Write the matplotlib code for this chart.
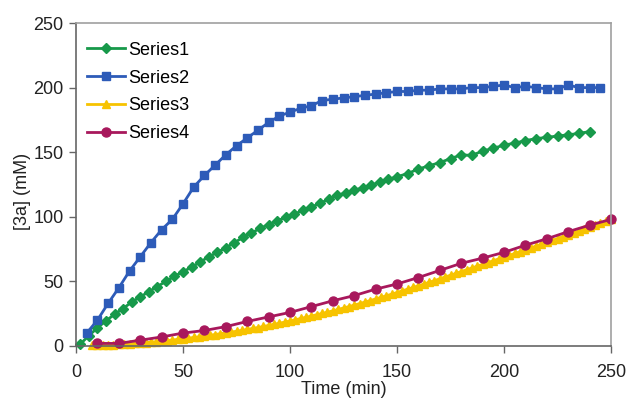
import matplotlib
matplotlib.use('Agg')
import matplotlib.pyplot as plt

plt.rcParams['font.family'] = ['Liberation Sans', 'DejaVu Sans']

# Series1 (green diamonds)
t1 = [2, 6, 10, 14, 18, 22, 26, 30, 34, 38, 42, 46, 50, 54, 58, 62, 66, 70, 74, 78,
      82, 86, 90, 94, 98, 102, 106, 110, 114, 118, 122, 126, 130, 134, 138, 142, 146, 150,
      155, 160, 165, 170, 175, 180, 185, 190, 195, 200, 205, 210, 215, 220, 225, 230, 235, 240]
s1 = [1.5, 8, 14, 19.5, 24.5, 29, 34, 38, 42, 46, 50, 54, 57.5, 61, 65, 69, 72.5, 76, 80, 84,
      87.5, 91, 94, 97, 99.5, 102, 105, 107.5, 110.5, 113.5, 116.5, 118.5, 120.5, 122.5, 124.5, 127, 129, 131,
      133.5, 137, 139.5, 142, 145, 148, 147.5, 151, 153, 155.5, 157, 159, 160.5, 161.5, 162.5, 163.5, 164.5, 166]

# Series2 (blue squares)
t2 = [5, 10, 15, 20, 25, 30, 35, 40, 45, 50, 55, 60, 65, 70, 75, 80, 85, 90, 95, 100,
      105, 110, 115, 120, 125, 130, 135, 140, 145, 150, 155, 160, 165, 170, 175, 180, 185, 190, 195, 200,
      205, 210, 215, 220, 225, 230, 235, 240, 245]
s2 = [10, 20, 33, 45, 58, 69, 80, 90, 98, 110, 123, 132, 140, 148, 155, 161, 167, 173, 178, 181,
      184, 186, 190, 191, 192, 193, 194, 195, 196, 197, 197, 198, 198, 199, 199, 199, 200, 200, 201, 202,
      200, 201, 200, 199, 199, 202, 200, 200, 200]

# Series3 (yellow triangles)
t3 = [7.5, 10, 12.5, 15, 17.5, 20, 22.5, 25, 27.5, 30, 32.5, 35, 37.5, 40, 42.5, 45, 47.5, 50,
      52.5, 55, 57.5, 60, 62.5, 65, 67.5, 70, 72.5, 75, 77.5, 80, 82.5, 85, 87.5, 90, 92.5, 95,
      97.5, 100, 102.5, 105, 107.5, 110, 112.5, 115, 117.5, 120, 122.5, 125, 127.5, 130, 132.5, 135,
      137.5, 140, 142.5, 145, 147.5, 150, 152.5, 155, 157.5, 160, 162.5, 165, 167.5, 170, 172.5, 175,
      177.5, 180, 182.5, 185, 187.5, 190, 192.5, 195, 197.5, 200, 202.5, 205, 207.5, 210, 212.5, 215,
      217.5, 220, 222.5, 225, 227.5, 230, 232.5, 235, 237.5, 240, 242.5, 245, 247.5, 250]
s3 = [0.5, 0.5, 0.8, 1, 1, 1.2, 1.5, 1.7, 2, 2.2, 2.6, 3, 3.3, 3.7, 4.2, 4.6, 5.1, 5.6,
      6.1, 6.6, 7.1, 7.7, 8.3, 8.9, 9.5, 10.1, 10.8, 11.4, 12.1, 12.8, 13.6, 14.3, 15.1, 15.9, 16.8, 17.6,
      18.5, 19.4, 20.3, 21.3, 22.2, 23.2, 24.2, 25.2, 26.2, 27.2, 28.3, 29.4, 30.5, 31.6, 32.8, 34,
      35.2, 36.4, 37.6, 38.9, 40.1, 41.4, 42.7, 44, 45.3, 46.6, 47.9, 49.3, 50.6, 52, 53.4, 54.8,
      56.2, 57.6, 59, 60.4, 61.8, 63.2, 64.6, 66, 67.4, 68.8, 70.2, 71.6, 73, 74.4, 75.9, 77.3,
      78.8, 80.2, 81.7, 83.2, 84.6, 86.1, 87.6, 89.1, 90.6, 92.1, 93.6, 95.1, 96.6, 98]

# Series4 (red circles)
t4 = [10, 20, 30, 40, 50, 60, 70, 80, 90, 100, 110, 120, 130, 140, 150, 160, 170, 180, 190, 200,
      210, 220, 230, 240, 250]
s4 = [2, 2, 4.5, 7, 10, 12, 15, 19, 22.5, 26, 30.5, 35, 39, 44, 48, 53, 58.5, 64, 68, 72.5,
      78, 83, 88.5, 93.5, 98]

fig = plt.figure(figsize=(6.28, 3.99), dpi=100)
ax = fig.add_axes([76/628, 1-346/399, 535/628, 323/399])

ax.plot(t1, s1, color='#17994a', marker='D', markersize=5.5, linewidth=2, label='Series1', clip_on=False)
ax.plot(t2, s2, color='#2d5bb8', marker='s', markersize=6, linewidth=2, label='Series2', clip_on=False)
ax.plot(t3, s3, color='#f7c300', marker='^', markersize=6, linewidth=2, label='Series3', clip_on=False)
ax.plot(t4, s4, color='#a8185c', marker='o', markersize=6.5, linewidth=2, label='Series4', clip_on=False)

ax.set_xlim(0, 250)
ax.set_ylim(0, 250)
ax.set_xticks([0, 50, 100, 150, 200, 250])
ax.set_yticks([0, 50, 100, 150, 200, 250])
ax.tick_params(direction='out', length=5, width=1, color='#666666', labelsize=13,
               labelcolor='#222222')
ax.tick_params(axis='x', pad=8)
ax.tick_params(axis='y', pad=4)

for side in ['left', 'bottom']:
    ax.spines[side].set_color('#666666')
for side in ['top', 'right']:
    ax.spines[side].set_color('#a0a0a0')
for sp in ax.spines.values():
    sp.set_linewidth(1.2)

ax.set_xlabel('Time (min)', fontsize=13, color='#222222', labelpad=0)
ax.set_ylabel('[3a] (mM)', fontsize=13, color='#222222')
ax.yaxis.set_label_coords(-0.084, 0.48)

ax.legend(loc='upper left', bbox_to_anchor=(0.004, 0.97), frameon=False, fontsize=13,
          handlelength=2.1, handletextpad=0.2, labelspacing=0.6, borderpad=0)

fig.savefig('out.png', dpi=100)
